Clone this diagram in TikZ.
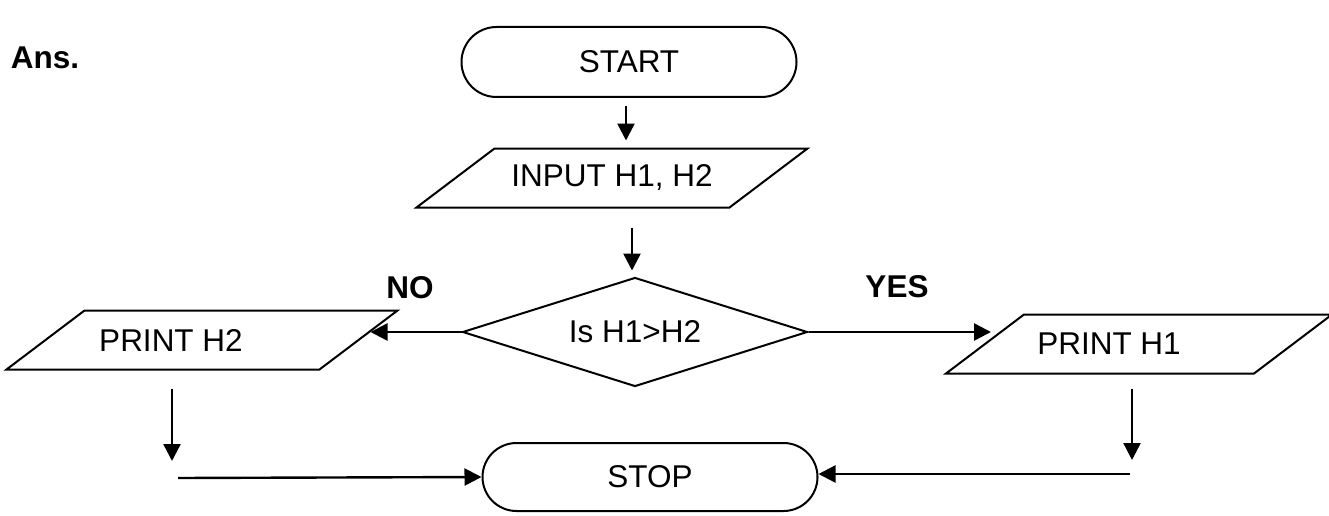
\documentclass[tikz,border=0pt]{standalone}
\usepackage{fontspec}
\setmainfont{Liberation Sans}
\usetikzlibrary{shapes.geometric,shapes.misc,arrows.meta}

\tikzset{
  box/.style={draw, line width=2pt, inner sep=0pt, font=\fontsize{31.5}{36}\selectfont},
  term/.style={box, rounded rectangle, minimum width=335pt, minimum height=70pt},
  io/.style={box, draw=none, minimum width=311pt, minimum height=57pt},
  test/.style={box, diamond, aspect=3.2, minimum width=345pt, minimum height=109pt},
  tag/.style={font=\fontsize{31.5}{36}\selectfont\bfseries},
  arr/.style={-{Triangle[width=17pt,length=17pt]}, line width=2.4pt}
}

\begin{document}
\begin{tikzpicture}[x=1pt,y=-1pt]
\useasboundingbox (0,0) rectangle (1329,516);

\node[tag] (ans) at (45,58) {Ans.};

\node[term] (start) at (629,62) {START};
\node[io] (input) at (612,178) {INPUT H1, H2};
\node[test] (dec) at (635,332) {Is H1>H2};
\node[io] (ph2) at (202,340) {PRINT H2\hspace*{62pt}};
\node[io, minimum width=306pt] (ph1) at (1139,344) {PRINT H1\hspace*{60pt}};
\node[term, minimum height=68pt] (stop) at (650,477) {STOP};

\foreach \n in {input,ph2,ph1}
  \draw[line width=2pt] ([xshift=39pt]\n.north west) -- ([xshift=39pt]\n.north east)
    -- ([xshift=-39pt]\n.south east) -- ([xshift=-39pt]\n.south west) -- cycle;

\node[tag] (no) at (410,288) {NO};
\node[tag] (yes) at (897,287) {YES};

\coordinate (noend) at (172,461);
\coordinate (nojoin) at (178,478);
\coordinate (yesend) at (1132,460);
\coordinate (yesjoin) at (1130,474);

\draw[arr, shorten <=8pt, shorten >=8pt] ([xshift=-3pt]start.south) -- ([xshift=-3pt]start.south |- input.north);
\draw[arr, shorten <=20pt, shorten >=6pt] ([xshift=-3pt]dec.north |- input.south) -- ([xshift=-3pt]dec.north);
\draw[arr] (dec.west) -- ([xshift=12pt]ph2.east |- dec.west);
\draw[arr] (dec.east) -- ([xshift=6pt]ph1.west |- dec.east);
\draw[arr, shorten <=19pt] (noend |- ph2.south) -- (noend);
\draw[arr, shorten <=15pt] (yesend |- ph1.south) -- (yesend);
\draw[arr] (nojoin) -- (stop.west);
\draw[arr] (yesjoin) -- (yesjoin -| stop.east);
\end{tikzpicture}
\end{document}
